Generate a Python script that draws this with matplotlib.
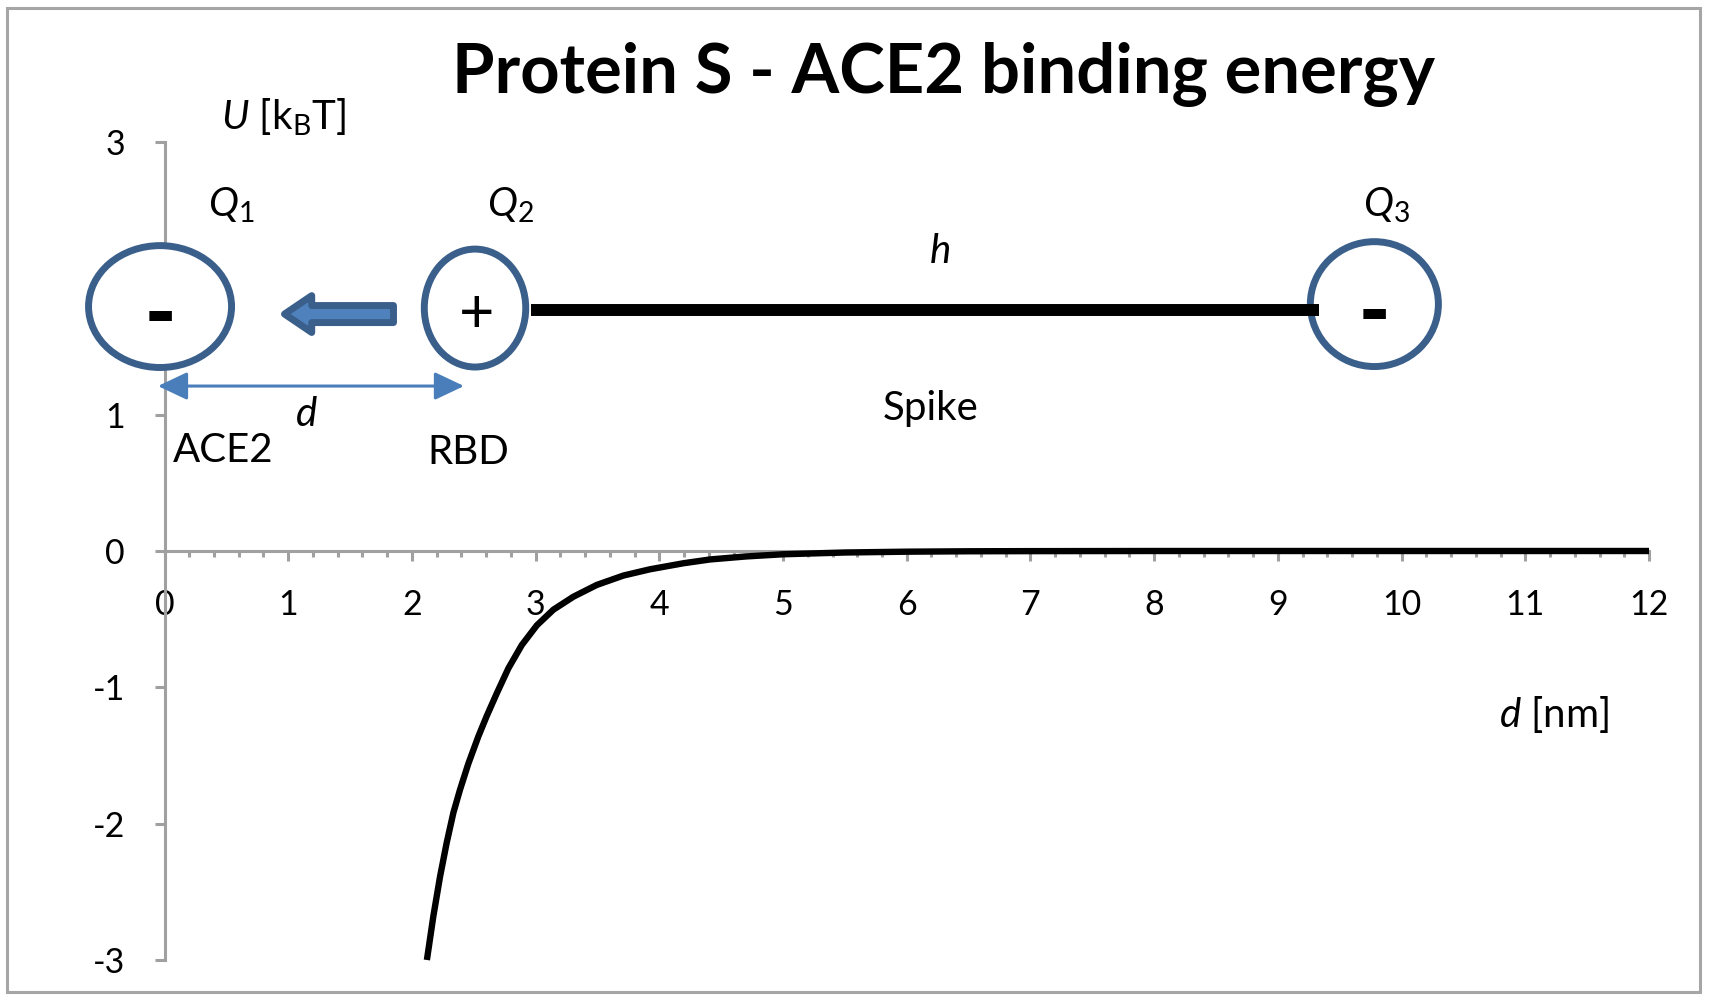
import matplotlib
matplotlib.use("Agg")
import matplotlib.pyplot as plt
from matplotlib.patches import Ellipse, FancyArrow, Rectangle

plt.rcParams['font.family'] = ['Lato', 'DejaVu Sans']
plt.rcParams['mathtext.fontset'] = 'custom'
plt.rcParams['mathtext.rm'] = 'Lato'
plt.rcParams['mathtext.it'] = 'Lato:italic'
plt.rcParams['mathtext.bf'] = 'Lato:bold'
plt.rcParams['mathtext.default'] = 'it'
plt.rcParams['axes.unicode_minus'] = False

# ---- data ----
d_nm = [2.121, 2.173, 2.227, 2.281, 2.335, 2.389, 2.456, 2.537, 2.605, 2.688,
        2.780, 2.888, 3.010, 3.144, 3.306, 3.494, 3.710, 3.925, 4.194, 4.410,
        4.70, 5.00, 5.50, 6.00, 6.50, 7.00, 8.00, 9.00, 10.00, 11.00, 12.00]
U_kT = [-3.00, -2.68, -2.39, -2.14, -1.92, -1.75, -1.56, -1.36, -1.21, -1.04,
        -0.86, -0.69, -0.545, -0.43, -0.335, -0.249, -0.18, -0.134, -0.090, -0.062,
        -0.040, -0.024, -0.011, -0.005, -0.002, -0.001, 0.0, 0.0, 0.0, 0.0, 0.0]
x_ticks = list(range(0, 13))
y_ticks = [-3, -2, -1, 0, 1, 2, 3]
title = "Protein S - ACE2 binding energy"

AXIS_GREY = '#A0A0A0'
EDGE_BLUE = '#3A5F8B'
FILL_BLUE = '#4F81BD'

fig = plt.figure(figsize=(17.09, 10.01), dpi=100)
ax = fig.add_axes([0.09626, 0.04096, 0.86863, 0.81718])

ax.plot(d_nm, U_kT, color='black', lw=4.6, zorder=4, clip_on=False,
        solid_capstyle='butt', solid_joinstyle='round')

ax.set_xlim(0, 12)
ax.set_ylim(-3, 3)
for s in ['top', 'right']:
    ax.spines[s].set_visible(False)
ax.spines['bottom'].set_position(('data', 0))
for s in ['left', 'bottom']:
    ax.spines[s].set_color(AXIS_GREY)
    ax.spines[s].set_linewidth(2.2)

ax.set_xticks(x_ticks)
ax.set_xticklabels([str(v) for v in x_ticks])
ax.set_xticks([i * 0.2 for i in range(61)], minor=True)
ax.set_yticks(y_ticks)
ax.set_yticklabels([str(v) for v in y_ticks])
ax.tick_params(axis='x', which='major', direction='out', length=7.5, width=2.2,
               color=AXIS_GREY, labelsize=24.5, pad=20)
ax.tick_params(axis='x', which='minor', direction='out', length=4.5, width=2.2,
               color=AXIS_GREY)
ax.tick_params(axis='y', which='major', direction='out', length=7.5, width=2.2,
               color=AXIS_GREY, labelsize=24.5, pad=21)
ax.tick_params(axis='y', which='minor', left=False)

# ---- diagram ----
ew = 5
e1 = Ellipse((-0.036, 1.793), 1.156, 0.894, facecolor='white', edgecolor=EDGE_BLUE,
             lw=ew, zorder=6, clip_on=False)
e2 = Ellipse((2.51, 1.782), 0.82, 0.865, facecolor='white', edgecolor=EDGE_BLUE,
             lw=ew, zorder=6, clip_on=False)
e3 = Ellipse((9.78, 1.811), 1.035, 0.916, facecolor='white', edgecolor=EDGE_BLUE,
             lw=ew, zorder=6, clip_on=False)
for e in (e1, e2, e3):
    ax.add_patch(e)

# spike stalk
ax.plot([2.963, 9.333], [1.767, 1.767], color='black', lw=8.6,
        solid_capstyle='butt', zorder=7, clip_on=False)

# block arrow
arr = FancyArrow(1.851, 1.738, -(1.851 - 0.970), 0, width=0.125, head_width=0.27,
                 head_length=0.22, length_includes_head=True,
                 facecolor=FILL_BLUE, edgecolor=EDGE_BLUE, lw=5, joinstyle='round',
                 zorder=6, clip_on=False)
ax.add_patch(arr)

# distance arrow d
ax.annotate('', xy=(2.421, 1.21), xytext=(-0.053, 1.21),
            arrowprops=dict(arrowstyle='<|-|>,head_length=0.95,head_width=0.45',
                            color='#4A7EBB', lw=2.2, shrinkA=0, shrinkB=0,
                            mutation_scale=19),
            annotation_clip=False, zorder=6)

# charge signs
ax.text(-0.036, 1.72, '-', fontsize=60, fontweight='heavy', ha='center', va='center',
        zorder=8)
ax.text(2.526, 1.735, '+', fontsize=44, fontweight='normal', ha='center', va='center',
        zorder=8)
ax.text(9.78, 1.735, '-', fontsize=60, fontweight='heavy', ha='center', va='center',
        zorder=8)

lbl = 29
ax.text(0.96, 3.18, r'$U$ [k$_\mathrm{B}$T]', fontsize=lbl, ha='center',
        va='center', clip_on=False)
ax.text(0.538, 2.537, r'$Q_{1}$', fontsize=lbl, ha='center', va='center')
ax.text(2.80, 2.537, r'$Q_{2}$', fontsize=lbl, ha='center', va='center')
ax.text(9.88, 2.537, r'$Q_{3}$', fontsize=lbl, ha='center', va='center')
ax.text(6.27, 2.20, 'h', fontsize=lbl, style='italic', ha='center', va='center')
ax.text(1.144, 1.004, 'd', fontsize=lbl, style='italic', ha='center', va='center')
ax.text(0.473, 0.74, 'ACE2', fontsize=lbl, ha='center', va='center')
ax.text(2.453, 0.726, 'RBD', fontsize=lbl, ha='center', va='center')
ax.text(6.19, 1.048, 'Spike', fontsize=lbl, ha='center', va='center')
ax.text(11.23, -1.20, r'$d$ [nm]', fontsize=lbl, ha='center', va='center')

fig.text(0.552, 0.926, title, fontsize=49.5, fontweight='bold', ha='center', va='center')

# chart border
fig.patches.append(Rectangle((0.0041, 0.009), 0.9906, 0.983, transform=fig.transFigure,
                             fill=False, edgecolor='#A6A6A6', lw=2.2))

fig.savefig('out.png', dpi=100)
